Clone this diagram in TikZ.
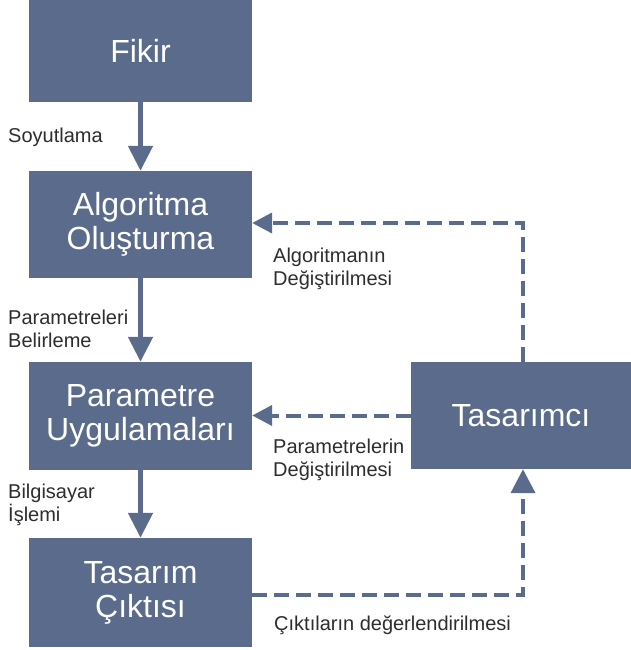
\documentclass[tikz,border=0pt]{standalone}
\usepackage{fontspec}
\setmainfont{Liberation Sans}
\usetikzlibrary{arrows.meta}
\definecolor{boxc}{RGB}{90,107,140}
\definecolor{labc}{RGB}{45,45,45}
\begin{document}
\begin{tikzpicture}[x=1pt,y=-1pt,
 blk/.style={fill=boxc, draw=none, text=white, font=\fontsize{32}{34}\selectfont, align=center, inner sep=0pt, minimum width=223pt},
 lab/.style={anchor=west, text=labc, font=\fontsize{20}{23}\selectfont, align=left, inner sep=0pt},
 solidarr/.style={draw=boxc, line width=5pt, -{Triangle[length=25pt,width=24pt]}},
 dasharr/.style={draw=boxc, line width=4pt, dash pattern=on 15pt off 7pt, -{Triangle[length=20pt,width=20pt]}},
 bigtip/.style={-{Triangle[length=24pt,width=24pt]}}]
\useasboundingbox (0,0) rectangle (631,650);
\node[blk, minimum height=102pt] (fik) at (140.5,51) {Fikir};
\node[blk, minimum height=107pt] (alg) at (140.5,224.5) {Algoritma\\Oluşturma};
\node[blk, minimum height=108pt] (par) at (140.5,416) {Parametre\\Uygulamaları};
\node[blk, minimum height=109pt] (tas) at (140.5,592.5) {Tasarım\\Çıktısı};
\node[blk, minimum height=107pt, minimum width=220pt] (tc) at (521,415.5) {Tasarımcı};

\draw[solidarr] (fik) -- (alg);
\draw[solidarr] (alg) -- (par);
\draw[solidarr] (par) -- (tas);

\coordinate (c1) at (523,223);
\coordinate (c2) at (523,595);
\draw[dasharr] ([xshift=2pt]tc.north) -- (c1) -- (alg.east |- c1);
\draw[dasharr] (tc.west) -- (par.east |- tc.west);
\draw[dasharr, bigtip] (tas.east |- c2) -- (c2) -- ([xshift=2pt]tc.south);

\node[lab] (l1) at (8,137) {Soyutlama};
\node[lab] (l2) at (8,328.5) {Parametreleri\\Belirleme};
\node[lab] (l3) at (8,505) {Bilgisayar\\İşlemi};
\node[lab] (l4) at (273,269) {Algoritmanın\\Değiştirilmesi};
\node[lab] (l5) at (273,460) {Parametrelerin\\Değiştirilmesi};
\node[lab] (l6) at (274,625) {Çıktıların değerlendirilmesi};
\end{tikzpicture}
\end{document}
